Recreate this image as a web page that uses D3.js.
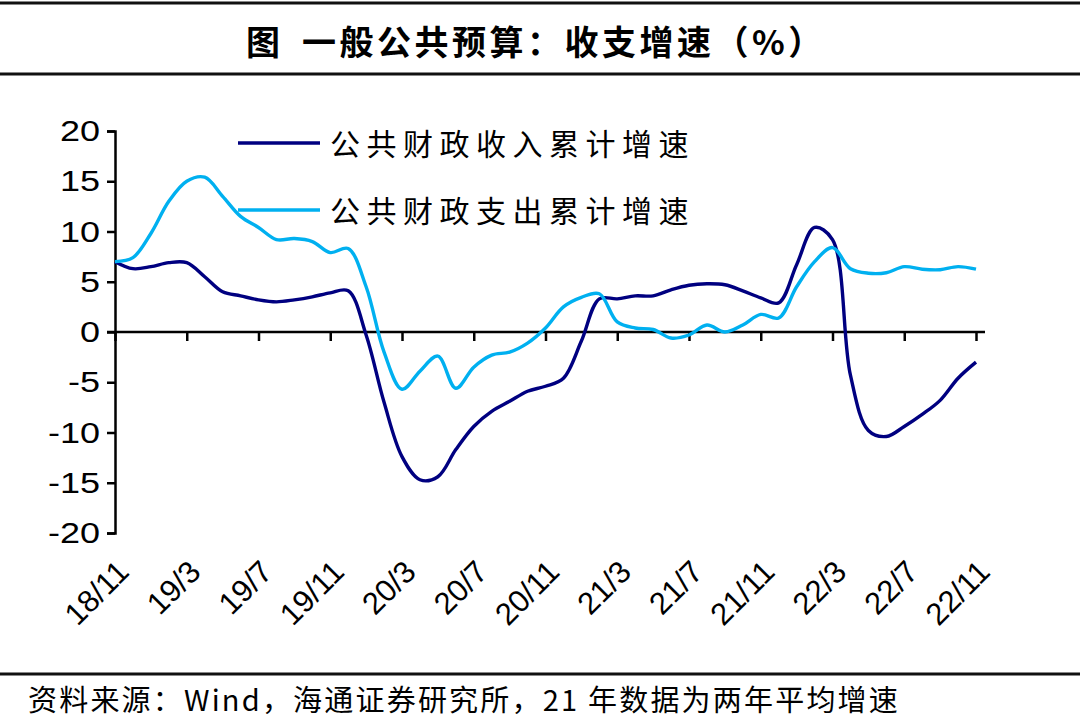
<!DOCTYPE html>
<html>
<head>
<meta charset="utf-8">
<script src="https://cdn.jsdelivr.net/npm/d3@7"></script>
<style>
  body { margin: 0; background: #fff; }
  svg { display: block; }
</style>
</head>
<body>
<div id="chart"></div>
<script>
// monthly, 18/11 .. 22/11
const months = [
  "18/11","18/12",
  "19/1","19/2","19/3","19/4","19/5","19/6","19/7","19/8","19/9","19/10","19/11","19/12",
  "20/1","20/2","20/3","20/4","20/5","20/6","20/7","20/8","20/9","20/10","20/11","20/12",
  "21/1","21/2","21/3","21/4","21/5","21/6","21/7","21/8","21/9","21/10","21/11","21/12",
  "22/1","22/2","22/3","22/4","22/5","22/6","22/7","22/8","22/9","22/10","22/11"
]
const revenue = [
  7.0, 6.3,
  6.5, 6.9, 6.9, 5.5, 4.0, 3.6, 3.2, 3.0, 3.2, 3.5, 3.9, 4.1,
  -0.3, -7.0, -12.4, -14.7, -14.4, -11.7, -9.4, -7.9, -6.9, -5.9, -5.4, -4.6,
  -0.9, 3.3, 3.3, 3.6, 3.6, 4.2, 4.65, 4.8, 4.7, 4.1, 3.4, 2.9,
  6.7, 10.4, 9.2, -4.3, -9.8, -10.4, -9.4, -8.2, -6.8, -4.6, -3.0
]
const expenditure = [
  7.0, 7.4,
  9.8, 13.0, 15.0, 15.4, 13.5, 11.5, 10.4, 9.2, 9.3, 9.0, 7.9, 8.3,
  4.5, -2.0, -5.7, -3.9, -2.4, -5.6, -3.5, -2.3, -2.0, -1.1, 0.4, 2.5,
  3.45, 3.8, 1.0, 0.4, 0.25, -0.6, -0.3, 0.7, 0.0, 0.7, 1.75, 1.4,
  4.5, 7.0, 8.4, 6.3, 5.85, 5.9, 6.5, 6.25, 6.2, 6.5, 6.25
]
const tickLabels = ["18/11","19/3","19/7","19/11","20/3","20/7","20/11","21/3","21/7","21/11","22/3","22/7","22/11"]
const yTicks = [20, 15, 10, 5, 0, -5, -10, -15, -20]

const seriesNames = ["公共财政收入累计增速", "公共财政支出累计增速"]
const seriesColors = ["#000080", "#00B0F0"]

const width = 1080
const height = 724
const cjk = "'Noto Sans CJK SC', sans-serif"
const latin = "'Liberation Sans', Arial, sans-serif"

const svg = d3.select("#chart")
    .append("svg")
    .attr("width", width)
    .attr("height", height)

const x = d3.scaleLinear().domain([0, months.length - 1]).range([115, 976])
const y = d3.scaleLinear().domain([-20, 20]).range([533, 131])

// title block
svg.append("line").attr("x1", 0).attr("x2", width).attr("y1", 3).attr("y2", 3)
    .attr("stroke", "#111").attr("stroke-width", 3)
svg.append("line").attr("x1", 0).attr("x2", width).attr("y1", 74).attr("y2", 74)
    .attr("stroke", "#111").attr("stroke-width", 3)
const title = svg.append("text")
    .attr("y", 55)
    .style("font-family", cjk).style("font-weight", 700).style("font-size", "34px")
title.append("tspan").attr("x", 246).text("图")
title.append("tspan").attr("x", 302).style("letter-spacing", "3.5px").text("一般公共预算：收支增速（%）")

// y axis
const sx = 1.2
const yAxis = svg.append("g")
    .attr("transform", "translate(115,0)")
    .call(d3.axisLeft(y).tickValues(yTicks).tickSize(8).tickPadding(7).tickFormat(d => String(d)))
yAxis.select(".domain").attr("stroke", "#000").attr("stroke-width", 2.5)
yAxis.selectAll(".tick line").attr("stroke", "#000").attr("stroke-width", 2.5)
yAxis.selectAll(".tick text")
    .attr("x", -15 / sx)
    .attr("transform", `scale(${sx},1)`)
    .style("font-family", latin).style("font-size", "30px").attr("fill", "#000")

// x axis on zero line, labels low
const tickIdx = tickLabels.map(t => months.indexOf(t))
const xAxis = svg.append("g")
    .attr("transform", `translate(0,${y(0)})`)
    .call(d3.axisBottom(x).tickValues(tickIdx).tickSize(9).tickFormat(""))
xAxis.select(".domain").remove()
xAxis.selectAll(".tick line").attr("stroke", "#000").attr("stroke-width", 2.5)
svg.append("line")
    .attr("x1", 107).attr("x2", 985)
    .attr("y1", y(0)).attr("y2", y(0))
    .attr("stroke", "#000").attr("stroke-width", 2.5)

svg.append("g")
    .selectAll("text")
    .data(tickLabels)
    .join("text")
    .attr("transform", d => `translate(${x(months.indexOf(d)) + 8},566) rotate(-45)`)
    .attr("text-anchor", "end")
    .attr("dy", "0.35em")
    .style("font-family", latin).style("font-size", "31px")
    .text(d => d)

// lines
const line = d3.line()
    .x((d, i) => x(i))
    .y(d => y(d))
    .curve(d3.curveCatmullRom.alpha(0.5))

const seriesData = [revenue, expenditure]
svg.append("g")
    .selectAll("path")
    .data(seriesData)
    .join("path")
    .attr("d", d => line(d))
    .attr("fill", "none")
    .attr("stroke", (d, i) => seriesColors[i])
    .attr("stroke-width", 3.4)
    .attr("stroke-linejoin", "round")

// legend
const legend = svg.append("g")
    .selectAll("g")
    .data(seriesNames)
    .join("g")
    .attr("transform", (d, i) => `translate(238,${143 + i * 67})`)
legend.append("line")
    .attr("x1", 0).attr("x2", 82)
    .attr("stroke", (d, i) => seriesColors[i])
    .attr("stroke-width", 3.4)
legend.append("text")
    .attr("x", 92).attr("y", 12)
    .style("font-family", cjk).style("font-size", "30px")
    .style("letter-spacing", "6.5px")
    .text(d => d)

// footer
svg.append("line").attr("x1", 0).attr("x2", width).attr("y1", 674).attr("y2", 674)
    .attr("stroke", "#111").attr("stroke-width", 3)
svg.append("text")
    .attr("x", 28).attr("y", 711)
    .style("font-family", cjk).style("font-size", "29px")
    .style("letter-spacing", "2.2px")
    .text("资料来源：Wind，海通证券研究所，21 年数据为两年平均增速")
</script>
</body>
</html>
